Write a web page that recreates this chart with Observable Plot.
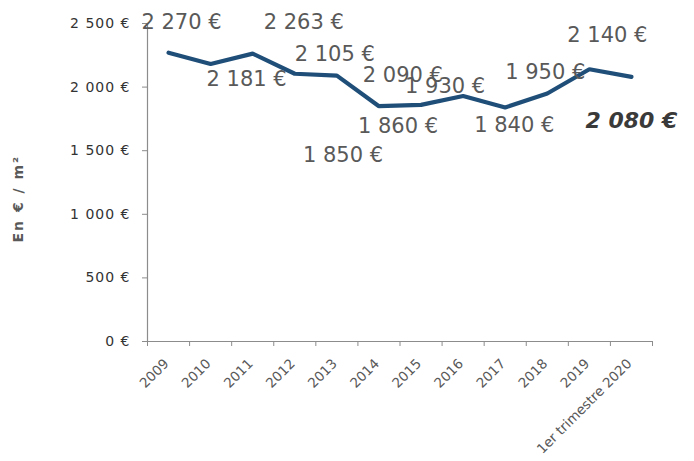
<!DOCTYPE html>
<html>
<head>
<meta charset="utf-8">
<script src="https://cdn.jsdelivr.net/npm/d3@7"></script>
<script src="https://cdn.jsdelivr.net/npm/@observablehq/plot@0.6"></script>
<style>
  html, body { margin: 0; padding: 0; background: #fff; }
  svg g[aria-label="y-axis tick"], svg g[aria-label="x-axis tick"] { stroke: #8c8c8c; }
</style>
</head>
<body>
<div id="chart"></div>
<script>
const categories = ["2009", "2010", "2011", "2012", "2013", "2014", "2015", "2016", "2017", "2018", "2019", "1er trimestre 2020"];
const prices = [2270, 2181, 2263, 2105, 2090, 1850, 1860, 1930, 1840, 1950, 2140, 2080];
const yTicks = [0, 500, 1000, 1500, 2000, 2500];
const yTitle = "En € / m²";
// label offsets in pixels relative to each point (placement as in the reference)
const labelDx = [13, 36, 51, 40, 66, -36, -23, -18, 9, -2, 18, 0];
const labelDy = [-30, 15, -31, -19, 0, 49, 21, -10, 18, -21, -34, 44];

const euro = v => d3.format(",")(v).replace(/,/g, "\u00a0") + "\u00a0€";
const idx = d3.range(categories.length);
const xPos = i => i + 0.5;
const last = categories.length - 1;

const labelMarks = idx.map(i => Plot.text([i], {
  x: xPos,
  y: j => prices[j],
  text: j => euro(prices[j]),
  dx: labelDx[i],
  dy: labelDy[i],
  fill: i === last ? "#3a3a3a" : "#595959",
  fontSize: i === last ? 22 : 21,
  fontWeight: i === last ? "bold" : "normal",
  fontStyle: i === last ? "italic" : "normal"
}));

const chart = Plot.plot({
  width: 694,
  height: 461,
  marginLeft: 147,
  marginRight: 42,
  marginTop: 23,
  marginBottom: 120,
  style: { fontFamily: "'DejaVu Sans', Verdana, sans-serif", background: "#fff", color: "#333" },
  x: { domain: [0, categories.length], axis: null },
  y: { domain: [0, 2500], axis: null },
  marks: [
    Plot.axisY({ ticks: yTicks, tickFormat: euro, tickSize: 5, tickPadding: 12, fontSize: 14, color: "#333" }),
    Plot.axisX({ ticks: d3.range(categories.length + 1), tickFormat: () => "", tickSize: 5, color: "#8c8c8c" }),
    Plot.ruleX([0], { y1: 0, y2: 2500, stroke: "#8c8c8c", strokeWidth: 1.2 }),
    Plot.ruleY([0], { x1: 0, x2: categories.length, stroke: "#8c8c8c", strokeWidth: 1.2 }),
    Plot.text(categories, {
      x: (d, i) => xPos(i),
      frameAnchor: "bottom",
      rotate: -45,
      textAnchor: "end",
      dx: 1,
      dy: 23,
      fontSize: 13.5,
      fill: "#595959"
    }),
    Plot.text([yTitle], {
      frameAnchor: "left",
      rotate: -90,
      dx: -129,
      dy: 60,
      fontSize: 14,
      fontWeight: "bold",
      fill: "#595959"
    }),
    Plot.line(prices, {
      x: (d, i) => xPos(i),
      y: d => d,
      stroke: "#1f4e79",
      strokeWidth: 4.2,
      strokeLinejoin: "miter"
    }),
    ...labelMarks
  ]
});
d3.select(chart).selectAll("text").each(function () {
  const t = this.textContent;
  if (t === yTitle) this.style.letterSpacing = "2px";
  else if (yTicks.some(v => euro(v) === t)) this.style.letterSpacing = "1px";
});
document.getElementById("chart").appendChild(chart);
</script>
</body>
</html>
